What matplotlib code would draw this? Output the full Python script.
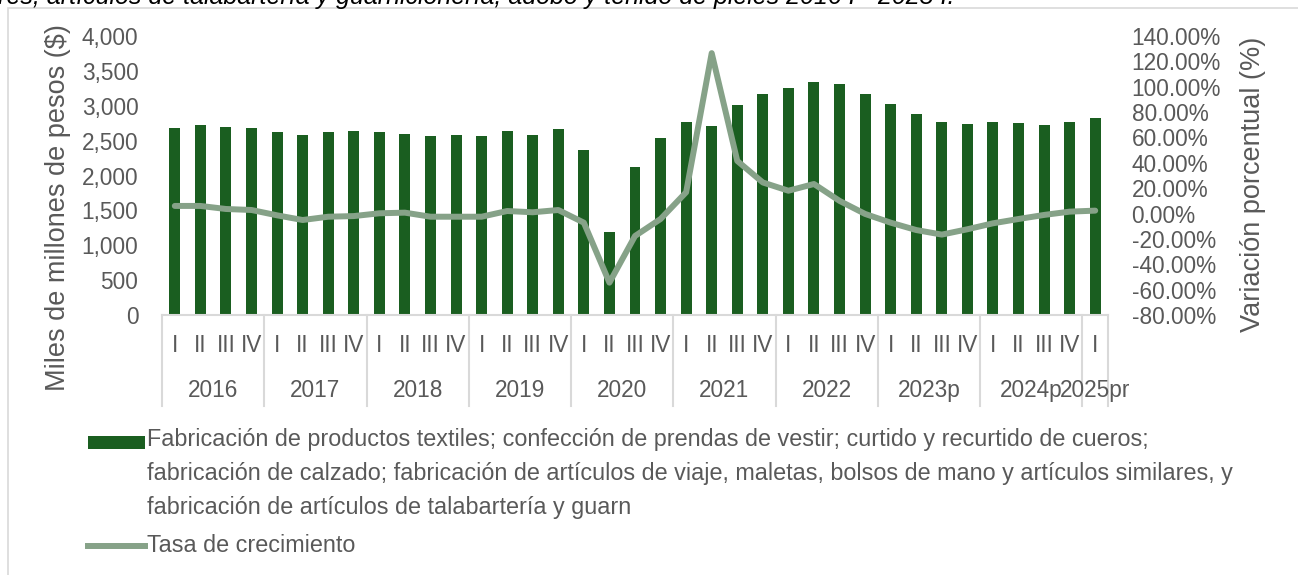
import matplotlib
matplotlib.use('Agg')
import matplotlib.pyplot as plt
import matplotlib.patches as patches
from matplotlib.lines import Line2D
from matplotlib.ticker import FuncFormatter, MultipleLocator

years = ['2016', '2017', '2018', '2019', '2020', '2021', '2022', '2023p', '2024p', '2025pr']
quarters = ['I', 'II', 'III', 'IV'] * 9 + ['I']

# miles de millones de pesos
valor = [2685, 2724, 2695, 2685,
         2628, 2580, 2628, 2638,
         2628, 2590, 2571, 2580,
         2571, 2638, 2580, 2662,
         2361, 1195, 2122, 2543,
         2762, 2705, 3011, 3164,
         3259, 3336, 3317, 3164,
         3030, 2886, 2772, 2743,
         2772, 2753, 2724, 2772,
         2829]

# tasa de crecimiento anual (%)
tasa = [6.0, 6.0, 3.6, 2.8,
        -1.4, -5.1, -2.5, -2.0,
        0.2, 0.7, -2.5, -2.5,
        -2.5, 2.0, 1.0, 2.8,
        -7.2, -54.5, -17.7, -4.3,
        16.8, 126.5, 41.5, 24.5,
        18.0, 23.3, 10.0, -0.3,
        -7.2, -13.0, -16.6, -12.4,
        -7.7, -4.3, -1.1, 1.5,
        2.3]

nombre_barras = ('Fabricación de productos textiles; confección de prendas de vestir; curtido y recurtido de cueros;\n'
                 'fabricación de calzado; fabricación de artículos de viaje, maletas, bolsos de mano y artículos similares, y\n'
                 'fabricación de artículos de talabartería y guarn')
nombre_linea = 'Tasa de crecimiento'

bar_color = '#1a5e20'
line_color = '#86a288'
text_color = '#595959'
grid_grey = '#d9d9d9'
fs = 16.3

plt.rcParams['font.family'] = ['Liberation Sans', 'DejaVu Sans']

W, H = 1298, 575
fig = plt.figure(figsize=(W / 100, H / 100), dpi=100)

# borde del área del gráfico
fig.patches.append(patches.Rectangle((8 / W, -0.1), 1.2, 1 - 8 / H + 0.1,
                                     transform=fig.transFigure, fill=False,
                                     edgecolor=grid_grey, linewidth=1.2))

# título (recortado en el borde superior, como en la imagen original)
fig.text(955 / W, 1 - 4 / H,
         'Valor agregado de la fabricación de artículos de viaje, bolsos de mano y artículos '
         'similares; artículos de talabartería y guarnicionería, adobo y teñido de pieles 2016 I - 2025 I.',
         ha='right', va='baseline', fontsize=18, style='italic', color='black')

ax = fig.add_axes([162 / W, 1 - 315 / H, 946 / W, 279 / H])
x = list(range(len(valor)))
ax.bar(x, valor, width=0.43, color=bar_color, zorder=2)
ax.set_xlim(-0.5, len(valor) - 0.5)
ax.set_ylim(0, 4000)
ax.yaxis.set_major_locator(MultipleLocator(500))
ax.yaxis.set_major_formatter(FuncFormatter(lambda v, p: f'{v:,.0f}'))
ax.tick_params(axis='y', length=0, pad=17, labelsize=fs, labelcolor=text_color)
ax.set_xticks([])
for s in ['top', 'left', 'right']:
    ax.spines[s].set_visible(False)
ax.spines['bottom'].set_color(grid_grey)
ax.spines['bottom'].set_linewidth(1.5)

# etiquetas de categoría en dos niveles
for i, q in enumerate(quarters):
    ax.text(i, -0.108, q, transform=ax.get_xaxis_transform(), ha='center', va='center',
            fontsize=fs, color=text_color, clip_on=False)
bounds = list(range(0, len(valor), 4)) + [len(valor)]
for k, y in enumerate(years):
    a, b = bounds[k], bounds[k + 1]
    ax.text((a + b - 1) / 2, -0.27, y, transform=ax.get_xaxis_transform(), ha='center', va='center',
            fontsize=fs, color=text_color, clip_on=False)
for b in bounds:
    ax.plot([b - 0.5, b - 0.5], [0, -0.325], transform=ax.get_xaxis_transform(),
            color=grid_grey, linewidth=1.5, clip_on=False)

ax2 = ax.twinx()
ax2.plot(x, tasa, color=line_color, linewidth=4.3, solid_joinstyle='round',
         solid_capstyle='round', zorder=3)
ax2.set_ylim(-80, 140)
ax2.yaxis.set_major_locator(MultipleLocator(20))
ax2.yaxis.set_major_formatter(FuncFormatter(lambda v, p: f'{v:.2f}%'))
ax2.tick_params(axis='y', length=0, pad=17, labelsize=fs, labelcolor=text_color)
for s in ['top', 'left', 'right', 'bottom']:
    ax2.spines[s].set_visible(False)

fig.text(58 / W, 1 - 208 / H, 'Miles de millones de pesos ($)', rotation=90,
         ha='center', va='center', fontsize=19.5, color=text_color)
fig.text(1253 / W, 1 - 184 / H, 'Variación porcentual (%)', rotation=90,
         ha='center', va='center', fontsize=19.5, color=text_color)

# leyenda
fig.patches.append(patches.Rectangle((88 / W, 1 - 449 / H), 57 / W, 13 / H,
                                     transform=fig.transFigure, facecolor=bar_color,
                                     edgecolor='none'))
fig.text(147 / W, 1 - 428 / H, nombre_barras, ha='left', va='top', fontsize=16.8,
         color=text_color, linespacing=1.62, transform=fig.transFigure)
fig.lines.append(Line2D([88 / W, 145 / W], [1 - 546 / H, 1 - 546 / H], transform=fig.transFigure,
                        color=line_color, linewidth=4.3))
fig.text(147 / W, 1 - 546 / H, nombre_linea, ha='left', va='center', fontsize=16.8,
         color=text_color)

fig.savefig('out.png', dpi=100)
